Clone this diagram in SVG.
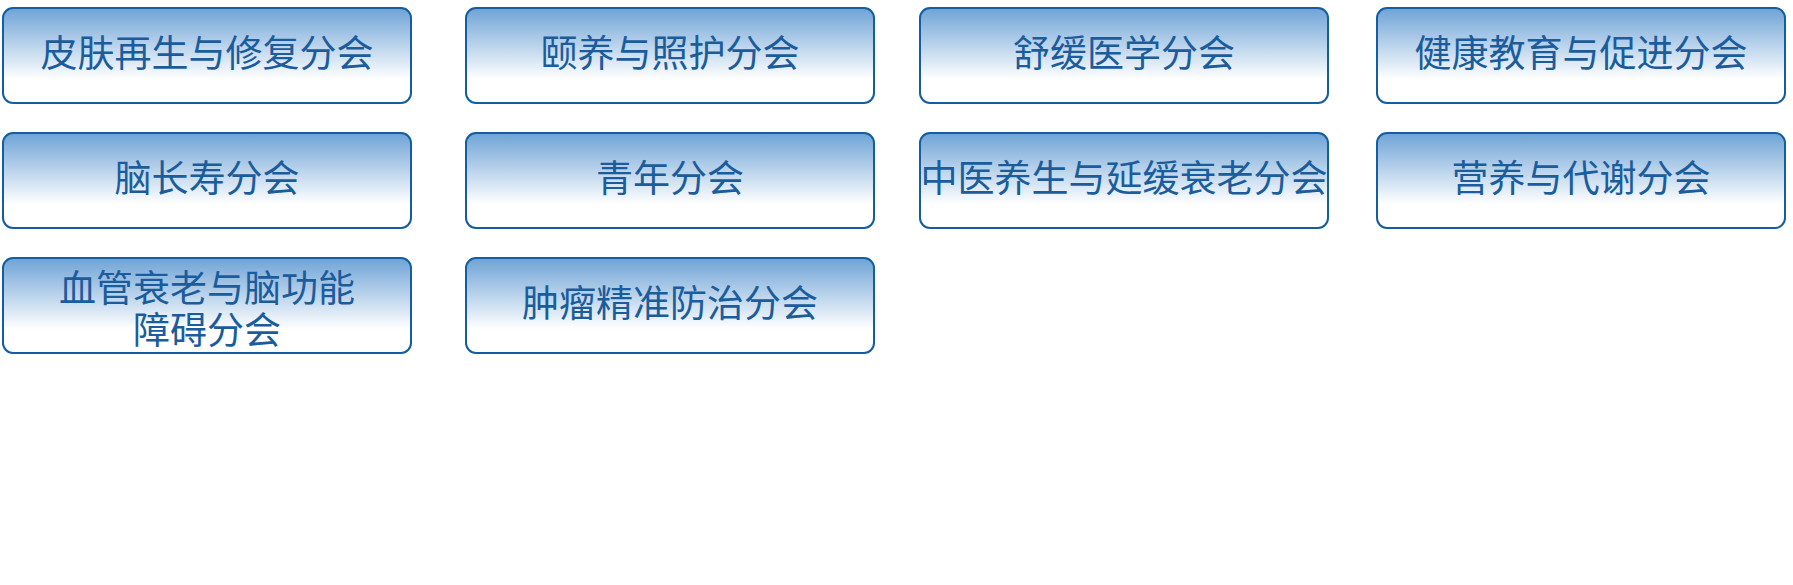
<svg xmlns="http://www.w3.org/2000/svg" width="1793" height="585" viewBox="0 0 1793 585">
<defs>
<linearGradient id="g" x1="0" y1="0" x2="0" y2="1">
<stop offset="0" stop-color="#6ea3d6"/>
<stop offset="0.75" stop-color="#ffffff"/>
<stop offset="1" stop-color="#ffffff"/>
</linearGradient>
</defs>
<style>
rect{fill:url(#g);stroke:#135ea0;stroke-width:2}
text{font-family:"Noto Sans CJK SC",sans-serif;font-size:37px;fill:#1b5c9c;text-anchor:middle}
.s{font-size:35px}
</style>
<rect width="1793" height="585" fill="#fff" style="fill:#fff;stroke:none"/>
<g id="connectors"/>
<g id="n1"><rect x="3" y="8" width="408" height="95" rx="10"/><text x="207" y="67">皮肤再生与修复分会</text></g>
<g id="n2"><rect x="466" y="8" width="408" height="95" rx="10"/><text x="670" y="67">颐养与照护分会</text></g>
<g id="n3"><rect x="920" y="8" width="408" height="95" rx="10"/><text x="1124" y="67">舒缓医学分会</text></g>
<g id="n4"><rect x="1377" y="8" width="408" height="95" rx="10"/><text x="1581" y="67">健康教育与促进分会</text></g>
<g id="n5"><rect x="3" y="133" width="408" height="95" rx="10"/><text x="207" y="192">脑长寿分会</text></g>
<g id="n6"><rect x="466" y="133" width="408" height="95" rx="10"/><text x="670" y="192">青年分会</text></g>
<g id="n7"><rect x="920" y="133" width="408" height="95" rx="10"/><text x="1124" y="192">中医养生与延缓衰老分会</text></g>
<g id="n8"><rect x="1377" y="133" width="408" height="95" rx="10"/><text x="1581" y="192">营养与代谢分会</text></g>
<g id="n9"><rect x="3" y="258" width="408" height="95" rx="10"/><text x="207" y="302">血管衰老与脑功能</text><text x="207" y="344">障碍分会</text></g>
<g id="n10"><rect x="466" y="258" width="408" height="95" rx="10"/><text x="670" y="317">肿瘤精准防治分会</text></g>
</svg>
